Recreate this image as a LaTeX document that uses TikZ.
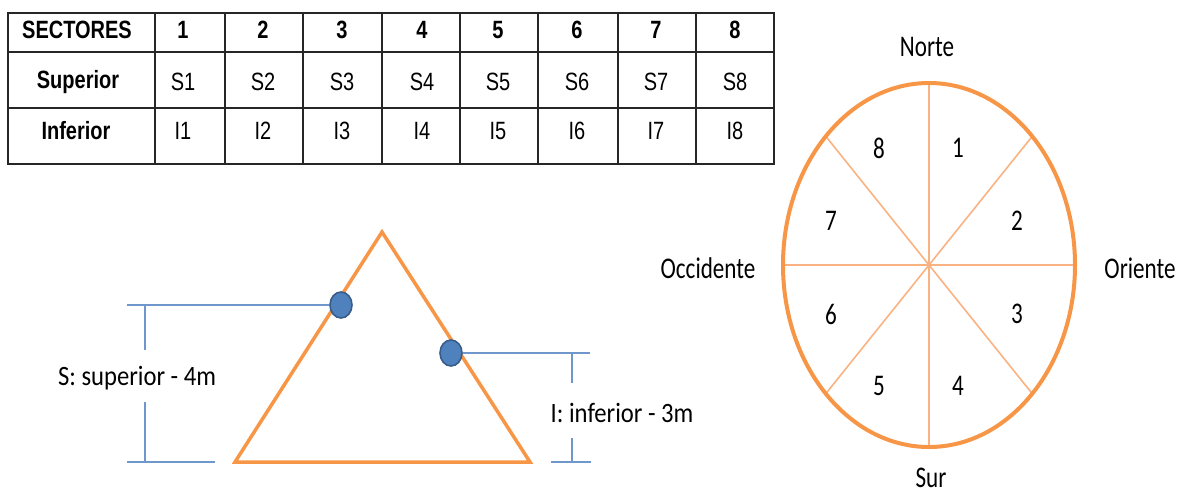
\documentclass[tikz,border=0pt]{standalone}
\usepackage{fontspec}
\usetikzlibrary{shapes.geometric}
\newfontfamily\arialn[FakeStretch=0.8]{Liberation Sans}
\newfontfamily\calib[FakeStretch=0.77]{Carlito}
\newfontfamily\calibd[FakeStretch=0.88]{Carlito}
\definecolor{orng}{HTML}{F79646}
\definecolor{lorng}{HTML}{F9B382}
\definecolor{bln}{HTML}{6F97CC}
\definecolor{dotf}{HTML}{4F81BD}
\definecolor{dotb}{HTML}{385D8A}
\begin{document}
\begin{tikzpicture}[x=1pt,y=-1pt,
  grid/.style={line width=1.6pt,draw=black!85},
  hd/.style={font=\arialn\bfseries\fontsize{25}{28}\selectfont,inner sep=0pt},
  cell/.style={font=\arialn\fontsize{25}{28}\selectfont,inner sep=0pt},
  lbl/.style={font=\calib\fontsize{30}{34}\selectfont,inner sep=0pt},
  dim/.style={font=\calibd\fontsize{28}{31}\selectfont,inner sep=0pt},
  tri/.style={draw=orng,line width=3.5pt,line join=miter},
  bline/.style={draw=bln,line width=1.3pt},
  dot/.style={ellipse,fill=dotf,draw=dotb,line width=1.6pt,minimum width=22pt,minimum height=26pt,inner sep=0pt},
  spoke/.style={draw=lorng,line width=1.6pt},
  oval/.style={draw=orng,line width=4pt}]
\useasboundingbox (0,0) rectangle (1182,493);
% ---- table ----
\draw[grid] (8,13) rectangle (774,164);
\foreach \yy in {52,108} \draw[grid] (8,\yy) -- (774,\yy);
\foreach \xx in {155,225,303,382,460,538,618,696} \draw[grid] (\xx,13) -- (\xx,164);
\node[hd] (h0) at (77,30) {SECTORES};
\node[hd] (s0) at (78,82) {Superior};
\node[hd] (i0) at (76,131) {Inferior};
\foreach \n/\xx in {1/183,2/263,3/342,4/422,5/498,6/577,7/656,8/735}{
  \node[hd] (h\n) at (\xx,30) {\n};
  \node[cell] (s\n) at (\xx,82) {S\n};
  \node[cell] (i\n) at (\xx,131) {I\n};
}
% ---- triangle ----
\coordinate (A) at (382,232);
\coordinate (B) at (530,462);
\coordinate (Cc) at (235,462);
\draw[tri] (A) -- (B) -- (Cc) -- cycle;
\coordinate (l1) at (127,305);
\coordinate (l2) at (127,462);
\coordinate (l3) at (215,462);
\coordinate (r1) at (590,353);
\coordinate (r2) at (551,462);
\coordinate (r3) at (591,462);
\node[dot] (d1) at (341,305) {};
\node[dot] (d2) at (451,353) {};
\draw[bline] (l1) -- (d1.west);
\draw[bline] (l2) -- (l3);
\draw[bline] (d2.east) -- (r1);
\draw[bline] (r2) -- (r3);
\node[dim] (sl) at (137,378) {S: superior - 4m};
\node[dim] (il) at (622,413) {I: inferior - 3m};
\draw[bline] (145,305) -- (145,350);
\draw[bline] (145,402) -- (145,462);
\draw[bline] (572,353) -- (572,383);
\draw[bline] (572,438) -- (572,462);
% ---- compass ellipse ----
\coordinate (O) at (929,265);
\foreach \a in {0,45,...,315}
  \draw[spoke] (O) -- ++({146*cos(\a)},{182*sin(\a)});
\draw[oval] (O) ellipse [x radius=146,y radius=182];
\node[lbl] (n1) at (958,148) {1};
\node[lbl] (n2) at (1017,221) {2};
\node[lbl] (n3) at (1017,314) {3};
\node[lbl] (n4) at (958,386) {4};
\node[lbl] (n5) at (879,386) {5};
\node[lbl] (n6) at (831,314) {6};
\node[lbl] (n7) at (831,221) {7};
\node[lbl] (n8) at (879,148) {8};
\node[lbl] (N) at (927,47) {Norte};
\node[lbl] (S) at (931,478) {Sur};
\node[lbl] (W) at (708,268) {Occidente};
\node[lbl] (E) at (1140,268) {Oriente};
\end{tikzpicture}
\end{document}
